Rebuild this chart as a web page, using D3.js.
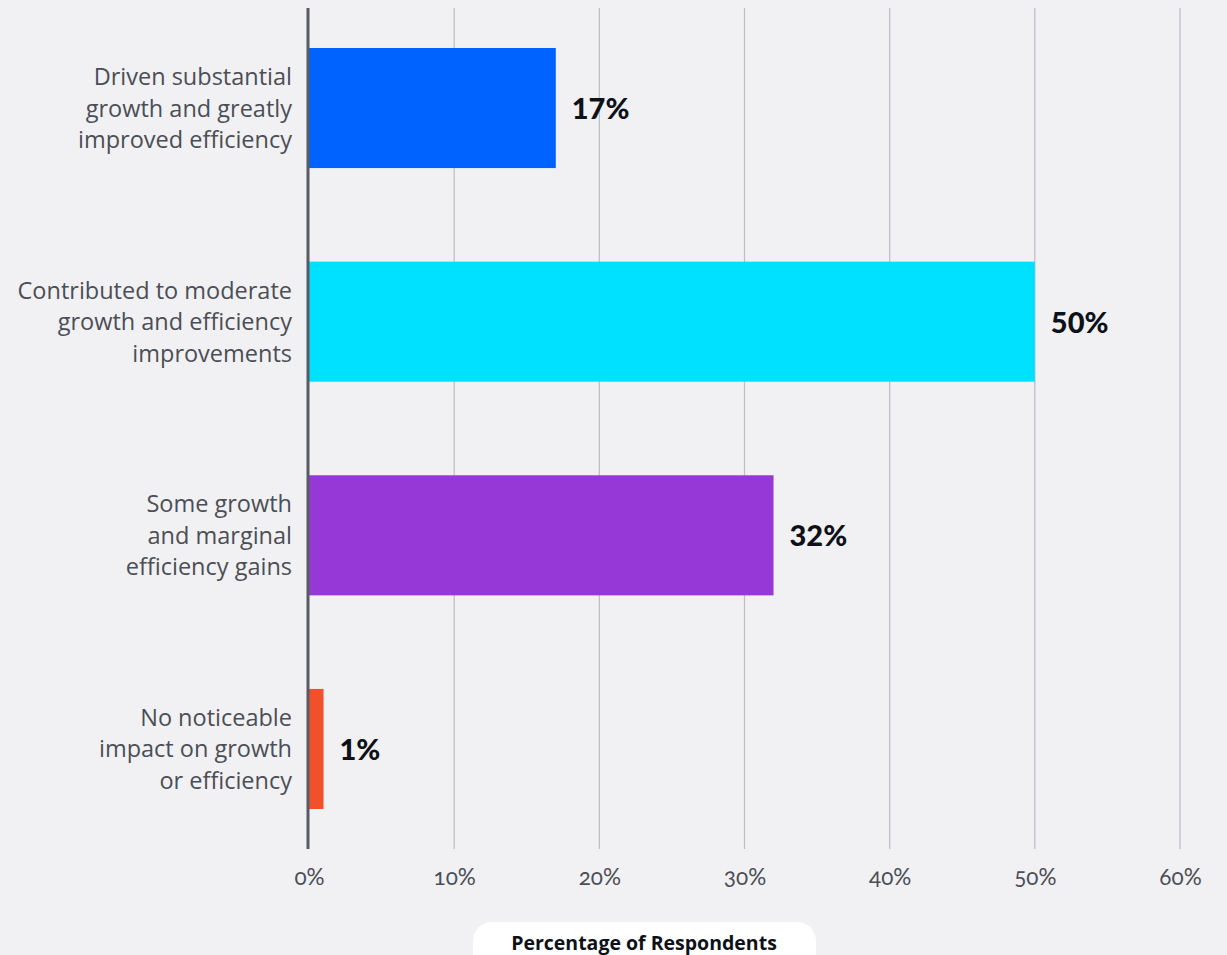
<!DOCTYPE html>
<html>
<head>
<meta charset="utf-8">
<script src="https://cdn.jsdelivr.net/npm/d3@7"></script>
<style>
  html, body { margin: 0; padding: 0; background: #f1f1f3; }
  svg { display: block; }
  .cat { font-family: "Open Sans", "Lato", sans-serif; font-size: 23.5px; fill: #4b4e56; }
  .tick text { font-family: "Lato", sans-serif; font-weight: 400; font-size: 22.5px; fill: #4b4e56; font-variant-numeric: oldstyle-nums; }
  .val { font-family: "Lato", sans-serif; font-weight: 900; font-size: 29px; fill: #0e1118; }
  .xtitle { font-family: "Open Sans", "Lato", sans-serif; font-weight: 700; font-size: 19.5px; fill: #0e1118; }
</style>
</head>
<body>
<script>
// Share of respondents by reported impact on growth and efficiency
const categories = [
  ["Driven substantial", "growth and greatly", "improved efficiency"],
  ["Contributed to moderate", "growth and efficiency", "improvements"],
  ["Some growth", "and marginal", "efficiency gains"],
  ["No noticeable", "impact on growth", "or efficiency"]
];
const values = [17, 50, 32, 1];
const colors = ["#0062ff", "#00e1ff", "#9637d7", "#f1502b"];
const tickValues = [0, 10, 20, 30, 40, 50, 60];
const axisTitle = "Percentage of Respondents";

const W = 1227, H = 955;
const svg = d3.select("body").append("svg").attr("width", W).attr("height", H);

const x = d3.scaleLinear().domain([0, 60]).range([309, 1180]);
const y = d3.scaleBand().domain(d3.range(values.length)).range([1.2, 855.8])
  .paddingInner(0.438).paddingOuter(0.219);

// vertical gridlines
svg.append("g").selectAll("line").data(tickValues.slice(1)).join("line")
  .attr("x1", d => x(d)).attr("x2", d => x(d))
  .attr("y1", 8).attr("y2", 849)
  .attr("stroke", "#bdbdc2").attr("stroke-width", 1.2);

// bars
svg.append("g").selectAll("rect").data(values).join("rect")
  .attr("x", x(0))
  .attr("y", (d, i) => y(i))
  .attr("width", d => x(d) - x(0))
  .attr("height", y.bandwidth())
  .attr("fill", (d, i) => colors[i]);

// baseline axis
svg.append("line")
  .attr("x1", x(0) - 1).attr("x2", x(0) - 1)
  .attr("y1", 8).attr("y2", 849)
  .attr("stroke", "#585b63").attr("stroke-width", 3);

// x axis tick labels
const xAxis = d3.axisBottom(x).tickValues(tickValues).tickFormat(d => d + "%").tickSize(0).tickPadding(0);
const gx = svg.append("g").attr("transform", "translate(0,885)").call(xAxis);
gx.select(".domain").remove();
gx.selectAll("text").attr("dy", 0);

// value labels
svg.append("g").selectAll("text").data(values).join("text")
  .attr("class", "val")
  .attr("x", d => x(d) + 16)
  .attr("y", (d, i) => y(i) + y.bandwidth() / 2 + 11)
  .text(d => d + "%");

// category labels
const cats = svg.append("g").selectAll("text").data(categories).join("text")
  .attr("class", "cat")
  .attr("text-anchor", "end")
  .attr("y", (d, i) => y(i) + y.bandwidth() / 2);
cats.selectAll("tspan").data(d => d).join("tspan")
  .attr("x", 292)
  .attr("dy", (d, j) => j === 0 ? "-23" : "31.5")
  .text(d => d);

// axis title pill
svg.append("rect")
  .attr("x", 473).attr("y", 922).attr("width", 343).attr("height", 60)
  .attr("rx", 19).attr("fill", "#ffffff");
svg.append("text").attr("class", "xtitle")
  .attr("x", 644).attr("y", 950).attr("text-anchor", "middle")
  .text(axisTitle);
</script>
</body>
</html>
